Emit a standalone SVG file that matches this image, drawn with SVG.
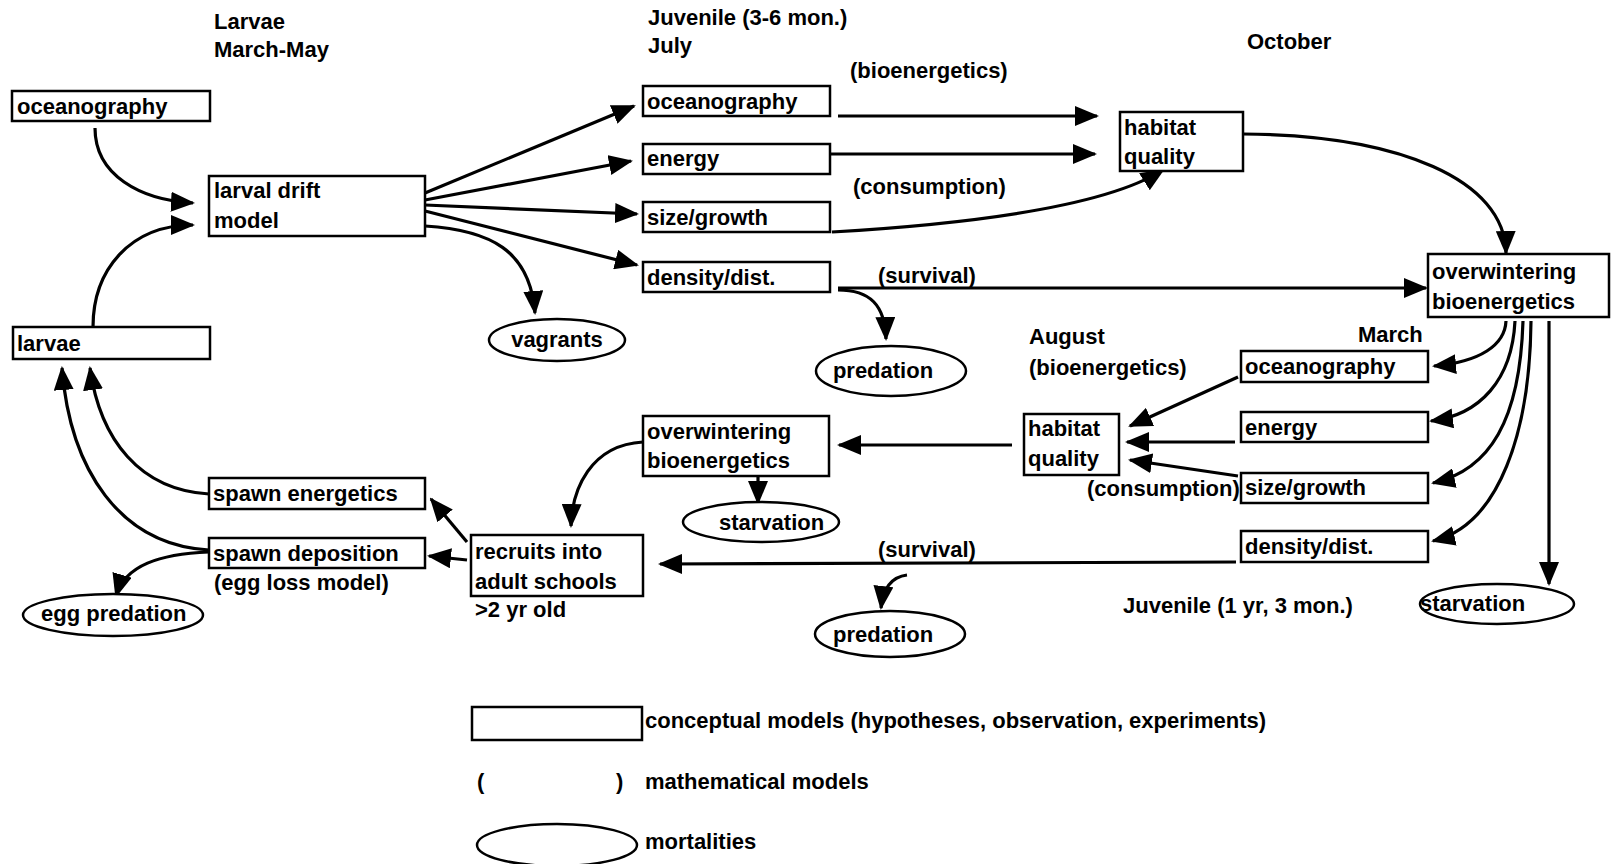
<svg xmlns="http://www.w3.org/2000/svg" width="1611" height="864" viewBox="0 0 1611 864">
<style>
text{font-family:"Liberation Sans",Arial,sans-serif;font-weight:bold;font-size:22px;fill:#000}
.box{fill:#fff;stroke:#000;stroke-width:2.5}
.ell{fill:#fff;stroke:#000;stroke-width:2.5}
.c{fill:none;stroke:#000;stroke-width:3.2;marker-end:url(#ah)}
.m{text-anchor:middle}
</style>
<defs>
<marker id="ah" viewBox="0 0 24 20" refX="22" refY="10" markerWidth="24" markerHeight="20" markerUnits="userSpaceOnUse" orient="auto">
<path d="M0,0 L24,10 L0,20 z" fill="#000"/>
</marker>
</defs>
<rect width="1611" height="864" fill="#fff"/>
<g id="labels">
<text x="214" y="29">Larvae</text>
<text x="214" y="57">March-May</text>
<text x="648" y="25">Juvenile (3-6 mon.)</text>
<text x="648" y="53">July</text>
<text x="1247" y="49">October</text>
<text x="850" y="78">(bioenergetics)</text>
<text x="853" y="194">(consumption)</text>
<text x="878" y="283">(survival)</text>
<text x="1029" y="344">August</text>
<text x="1029" y="375">(bioenergetics)</text>
<text x="1358" y="342">March</text>
<text x="1087" y="496">(consumption)</text>
<text x="878" y="557">(survival)</text>
<text x="1123" y="613">Juvenile (1 yr, 3 mon.)</text>
<text x="214" y="590">(egg loss model)</text>
<text x="475" y="617">&gt;2 yr old</text>
</g>
<g id="connectors">
<path class="c" d="M95 128 C95 175 140 200 193 203"/>
<path class="c" d="M93 327 C93 270 130 225 193 225"/>
<path class="c" d="M425 193 L634 106"/>
<path class="c" d="M425 200 L631 161"/>
<path class="c" d="M425 205 L637 214"/>
<path class="c" d="M425 211 L637 265"/>
<path class="c" d="M425 226 C490 230 530 250 535 313"/>
<path class="c" d="M838 116 L1097 116"/>
<path class="c" d="M830 154 L1095 154"/>
<path class="c" d="M832 232 C950 225 1100 210 1163 170"/>
<path class="c" d="M1243 134 C1400 135 1505 180 1506 253"/>
<path class="c" d="M838 288 L1426 288"/>
<path class="c" d="M838 290 C870 290 885 305 886 339"/>
<path class="c" d="M1506 321 C1505 345 1480 362 1434 366"/>
<path class="c" d="M1515 321 C1512 380 1480 415 1431 421"/>
<path class="c" d="M1523 321 C1520 420 1490 470 1433 483"/>
<path class="c" d="M1531 321 C1530 430 1500 525 1433 541"/>
<path class="c" d="M1549 321 L1549 584"/>
<path class="c" d="M1238 377 L1130 426"/>
<path class="c" d="M1235 442 L1127 442"/>
<path class="c" d="M1238 476 L1130 460"/>
<path class="c" d="M1012 445 L839 445"/>
<path class="c" d="M758 476 L758 503"/>
<path class="c" d="M643 442 C590 445 572 490 571 526"/>
<path class="c" d="M1236 562 L660 564"/>
<path class="c" d="M907 575 C890 577 883 590 881 608"/>
<path class="c" d="M467 542 L431 499"/>
<path class="c" d="M467 560 L429 556"/>
<path class="c" d="M209 494 C140 490 100 440 90 368"/>
<path class="c" d="M209 550 C120 545 70 470 62 368"/>
<path class="c" d="M209 552 C160 554 125 565 116 596"/>
</g>
<g id="n-ocean-larvae"><rect class="box" x="12" y="91" width="198" height="30"/><text x="17" y="114">oceanography</text></g>
<g id="n-larval-drift"><rect class="box" x="209" y="176" width="216" height="60"/><text x="214" y="198">larval drift</text><text x="214" y="228">model</text></g>
<g id="n-larvae"><rect class="box" x="13" y="327" width="197" height="32"/><text x="17" y="351">larvae</text></g>
<g id="n-vagrants"><ellipse class="ell" cx="557" cy="340" rx="68" ry="21"/><text class="m" x="557" y="347">vagrants</text></g>
<g id="n-juv-ocean"><rect class="box" x="643" y="86" width="187" height="30"/><text x="647" y="109">oceanography</text></g>
<g id="n-juv-energy"><rect class="box" x="643" y="144" width="187" height="30"/><text x="647" y="166">energy</text></g>
<g id="n-juv-size"><rect class="box" x="643" y="202" width="187" height="30"/><text x="647" y="225">size/growth</text></g>
<g id="n-juv-density"><rect class="box" x="643" y="262" width="187" height="30"/><text x="647" y="285">density/dist.</text></g>
<g id="n-habitat-oct"><rect class="box" x="1120" y="112" width="123" height="59"/><text x="1124" y="135">habitat</text><text x="1124" y="164">quality</text></g>
<g id="n-overwinter-r"><rect class="box" x="1428" y="254" width="181" height="63"/><text x="1432" y="279">overwintering</text><text x="1432" y="309">bioenergetics</text></g>
<g id="n-predation-1"><ellipse class="ell" cx="891" cy="371" rx="75" ry="25"/><text class="m" x="883" y="378">predation</text></g>
<g id="n-mar-ocean"><rect class="box" x="1241" y="351" width="187" height="31"/><text x="1245" y="374">oceanography</text></g>
<g id="n-mar-energy"><rect class="box" x="1241" y="412" width="187" height="30"/><text x="1245" y="435">energy</text></g>
<g id="n-mar-size"><rect class="box" x="1241" y="473" width="187" height="30"/><text x="1245" y="495">size/growth</text></g>
<g id="n-mar-density"><rect class="box" x="1241" y="531" width="187" height="31"/><text x="1245" y="554">density/dist.</text></g>
<g id="n-habitat-aug"><rect class="box" x="1024" y="414" width="95" height="61"/><text x="1028" y="436">habitat</text><text x="1028" y="466">quality</text></g>
<g id="n-overwinter-m"><rect class="box" x="643" y="416" width="186" height="60"/><text x="647" y="439">overwintering</text><text x="647" y="468">bioenergetics</text></g>
<g id="n-starvation-1"><ellipse class="ell" cx="761" cy="522" rx="78" ry="20"/><text x="719" y="530">starvation</text></g>
<g id="n-spawn-energ"><rect class="box" x="209" y="478" width="216" height="31"/><text x="213" y="501">spawn energetics</text></g>
<g id="n-spawn-dep"><rect class="box" x="209" y="538" width="216" height="30"/><text x="213" y="561">spawn deposition</text></g>
<g id="n-egg-pred"><ellipse class="ell" cx="113" cy="615" rx="90" ry="21"/><text x="41" y="621">egg predation</text></g>
<g id="n-recruits"><rect class="box" x="471" y="535" width="172" height="61"/><text x="475" y="559">recruits into</text><text x="475" y="589">adult schools</text></g>
<g id="n-predation-2"><ellipse class="ell" cx="890" cy="634" rx="75" ry="23"/><text x="833" y="642">predation</text></g>
<g id="n-starvation-2"><ellipse class="ell" cx="1497" cy="604" rx="77" ry="20"/><text x="1420" y="611">starvation</text></g>
<g id="legend">
<rect class="box" x="472" y="707" width="170" height="33"/>
<text x="645" y="728">conceptual models (hypotheses, observation, experiments)</text>
<text x="477" y="789">(</text><text x="616" y="789">)</text>
<text x="645" y="789">mathematical models</text>
<ellipse class="ell" cx="557" cy="845" rx="80" ry="21"/>
<text x="645" y="849">mortalities</text>
</g>
</svg>
